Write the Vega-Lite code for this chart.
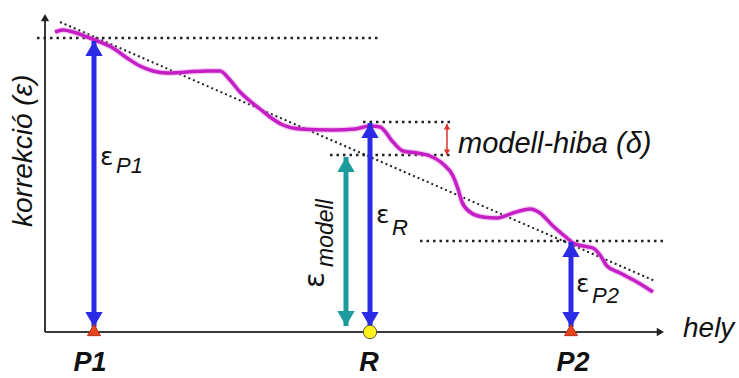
{
  "$schema": "https://vega.github.io/schema/vega-lite/v6.json",
  "width": 739,
  "height": 378,
  "padding": 0,
  "autosize": {"type": "none"},
  "background": "white",
  "config": {"view": {"stroke": null}, "font": "Liberation Sans"},
  "datasets": {
    "curve": [
      {"x": 10, "y": 300}, {"x": 18, "y": 302}, {"x": 28, "y": 300}, {"x": 42, "y": 295}, {"x": 55, "y": 290},
      {"x": 68, "y": 284}, {"x": 82, "y": 274}, {"x": 95, "y": 266}, {"x": 108, "y": 261}, {"x": 122, "y": 259},
      {"x": 142, "y": 260}, {"x": 162, "y": 261}, {"x": 175, "y": 261}, {"x": 185, "y": 252}, {"x": 195, "y": 240},
      {"x": 205, "y": 231}, {"x": 215, "y": 223}, {"x": 225, "y": 215}, {"x": 238, "y": 207}, {"x": 255, "y": 203},
      {"x": 288, "y": 202}, {"x": 310, "y": 203}, {"x": 325, "y": 206}, {"x": 335, "y": 205}, {"x": 348, "y": 190},
      {"x": 358, "y": 181}, {"x": 372, "y": 179}, {"x": 385, "y": 176}, {"x": 398, "y": 168}, {"x": 408, "y": 156},
      {"x": 413, "y": 143}, {"x": 417, "y": 130}, {"x": 425, "y": 120}, {"x": 438, "y": 115}, {"x": 452, "y": 114},
      {"x": 468, "y": 119}, {"x": 485, "y": 123}, {"x": 495, "y": 119}, {"x": 508, "y": 106}, {"x": 522, "y": 94},
      {"x": 528, "y": 89}, {"x": 538, "y": 86}, {"x": 548, "y": 84}, {"x": 555, "y": 77}, {"x": 562, "y": 66},
      {"x": 575, "y": 59}, {"x": 592, "y": 50}, {"x": 608, "y": 40}
    ],
    "hlines": [
      {"x": -8, "x2": 335, "y": 294, "y2": 294},
      {"x": 318, "x2": 407, "y": 210, "y2": 210},
      {"x": 285, "x2": 407, "y": 177, "y2": 177},
      {"x": 375, "x2": 618, "y": 91, "y2": 91}
    ],
    "trend": [{"x": 15, "x2": 610, "y": 310, "y2": 51}],
    "axes": [
      {"x": 0, "x2": 612, "y": 0, "y2": 0},
      {"x": 0, "x2": 0, "y": 0, "y2": 312}
    ],
    "arrows": [
      {"kind": "P1", "x": 49, "y": 291, "y2": 5},
      {"kind": "R", "x": 325, "y": 209, "y2": 5},
      {"kind": "P2", "x": 526, "y": 90, "y2": 5},
      {"kind": "modell", "x": 301, "y": 175, "y2": 6}
    ],
    "delta": [{"x": 402, "y": 208, "y2": 177}],
    "pts": [{"name": "P1", "x": 49, "y": 0}, {"name": "P2", "x": 526, "y": 0}],
    "ref": [{"name": "R", "x": 325, "y": 0}],
    "eps": [
      {"t": "ε", "x": 55, "y": 167},
      {"t": "ε", "x": 331, "y": 109},
      {"t": "ε", "x": 531, "y": 40}
    ],
    "subs": [
      {"t": "P1", "x": 71, "y": 159},
      {"t": "R", "x": 347, "y": 97},
      {"t": "P2", "x": 547, "y": 29}
    ],
    "names": [
      {"t": "P1", "x": 45, "y": -39},
      {"t": "R", "x": 324, "y": -39},
      {"t": "P2", "x": 528, "y": -39}
    ]
  },
  "encoding": {
    "x": {"field": "x", "type": "quantitative", "scale": {"domain": [-45, 694], "nice": false, "zero": false}, "axis": null},
    "y": {"field": "y", "type": "quantitative", "scale": {"domain": [-46, 332], "nice": false, "zero": false}, "axis": null}
  },
  "layer": [
    {
      "data": {"name": "axes"},
      "mark": {"type": "rule", "color": "#3a3a3a", "strokeWidth": 2},
      "encoding": {"x2": {"field": "x2"}, "y2": {"field": "y2"}}
    },
    {
      "data": {"values": [{"x": 0, "y": 318}]},
      "mark": {"type": "point", "shape": "triangle-up", "filled": true, "color": "#222", "size": 70, "yOffset": 3.6, "opacity": 1},
      "encoding": {}
    },
    {
      "data": {"values": [{"x": 619, "y": 0}]},
      "mark": {"type": "point", "shape": "triangle-right", "filled": true, "color": "#222", "size": 70, "xOffset": -3.6, "opacity": 1},
      "encoding": {}
    },
    {
      "data": {"name": "hlines"},
      "mark": {"type": "rule", "color": "#222", "strokeWidth": 2.5, "strokeDash": [2.5, 4]},
      "encoding": {"x2": {"field": "x2"}, "y2": {"field": "y2"}}
    },
    {
      "data": {"name": "trend"},
      "mark": {"type": "rule", "color": "#222", "strokeWidth": 2, "strokeDash": [2, 3]},
      "encoding": {"x2": {"field": "x2"}, "y2": {"field": "y2"}}
    },
    {
      "data": {"name": "curve"},
      "mark": {"type": "line", "color": "#e070e0", "strokeWidth": 6, "opacity": 0.35, "interpolate": "monotone"},
      "encoding": {}
    },
    {
      "data": {"name": "curve"},
      "mark": {"type": "line", "color": "#c41ec4", "strokeWidth": 3.5, "interpolate": "monotone"},
      "encoding": {}
    },
    {
      "data": {"name": "arrows"},
      "mark": {"type": "rule", "strokeWidth": 5},
      "encoding": {
        "y2": {"field": "y2"},
        "color": {"field": "kind", "type": "nominal", "scale": {"domain": ["P1", "R", "P2", "modell"], "range": ["#2b2be6", "#2b2be6", "#2b2be6", "#1c9a9c"]}, "legend": null}
      }
    },
    {
      "data": {"name": "arrows"},
      "mark": {"type": "point", "shape": "triangle-up", "filled": true, "size": 300, "yOffset": 7.5, "opacity": 1},
      "encoding": {
        "color": {"field": "kind", "type": "nominal", "legend": null}
      }
    },
    {
      "data": {"name": "arrows"},
      "mark": {"type": "point", "shape": "triangle-down", "filled": true, "size": 300, "yOffset": -7.5, "opacity": 1},
      "encoding": {
        "y": {"field": "y2", "type": "quantitative", "scale": {"domain": [-46, 332], "nice": false, "zero": false}, "axis": null},
        "color": {"field": "kind", "type": "nominal", "legend": null}
      }
    },
    {
      "data": {"name": "delta"},
      "mark": {"type": "rule", "strokeWidth": 1.5, "color": "#e0302a"},
      "encoding": {"y2": {"field": "y2"}}
    },
    {
      "data": {"name": "delta"},
      "mark": {"type": "point", "shape": "triangle-up", "filled": true, "size": 40, "yOffset": 2.7, "color": "#e0302a", "opacity": 1},
      "encoding": {}
    },
    {
      "data": {"name": "delta"},
      "mark": {"type": "point", "shape": "triangle-down", "filled": true, "size": 40, "yOffset": -2.7, "color": "#e0302a", "opacity": 1},
      "encoding": {
        "y": {"field": "y2", "type": "quantitative", "scale": {"domain": [-46, 332], "nice": false, "zero": false}, "axis": null}
      }
    },
    {
      "data": {"name": "pts"},
      "mark": {"type": "point", "shape": "triangle-up", "filled": true, "size": 170, "yOffset": -2, "fill": "#e8451e", "stroke": "#b8301a", "strokeWidth": 1, "opacity": 1},
      "encoding": {}
    },
    {
      "data": {"name": "ref"},
      "mark": {"type": "point", "shape": "circle", "filled": true, "size": 180, "fill": "#fff01a", "stroke": "#555", "strokeWidth": 1, "opacity": 1},
      "encoding": {}
    },
    {
      "data": {"name": "eps"},
      "mark": {"type": "text", "align": "left", "baseline": "alphabetic", "font": "DejaVu Sans", "fontSize": 25, "color": "#111"},
      "encoding": {"text": {"field": "t"}}
    },
    {
      "data": {"name": "subs"},
      "mark": {"type": "text", "align": "left", "baseline": "alphabetic", "fontSize": 22, "fontStyle": "italic", "color": "#111"},
      "encoding": {"text": {"field": "t"}}
    },
    {
      "data": {"values": [{"t": "ε", "x": 279, "y": 44}]},
      "mark": {"type": "text", "align": "left", "baseline": "alphabetic", "angle": 270, "font": "DejaVu Sans", "fontSize": 29, "color": "#111"},
      "encoding": {"text": {"field": "t"}}
    },
    {
      "data": {"values": [{"t": "modell", "x": 288, "y": 65}]},
      "mark": {"type": "text", "align": "left", "baseline": "alphabetic", "angle": 270, "fontSize": 23, "fontStyle": "italic", "color": "#111"},
      "encoding": {"text": {"field": "t"}}
    },
    {
      "data": {"values": [{"t": "modell-hiba (δ)", "x": 413, "y": 179}]},
      "mark": {"type": "text", "align": "left", "baseline": "alphabetic", "fontSize": 29, "fontStyle": "italic", "color": "#111"},
      "encoding": {"text": {"field": "t"}}
    },
    {
      "data": {"values": [{"t": "hely", "x": 638, "y": -5}]},
      "mark": {"type": "text", "align": "left", "baseline": "alphabetic", "fontSize": 28, "fontStyle": "italic", "color": "#111"},
      "encoding": {"text": {"field": "t"}}
    },
    {
      "data": {"values": [{"t": "korrekció (ε)", "x": -13, "y": 105}]},
      "mark": {"type": "text", "align": "left", "baseline": "alphabetic", "angle": 270, "fontSize": 28, "fontStyle": "italic", "color": "#111"},
      "encoding": {"text": {"field": "t"}}
    },
    {
      "data": {"name": "names"},
      "mark": {"type": "text", "align": "center", "baseline": "alphabetic", "fontSize": 27, "fontStyle": "italic", "fontWeight": "bold", "color": "#111"},
      "encoding": {"text": {"field": "t"}}
    }
  ]
}
